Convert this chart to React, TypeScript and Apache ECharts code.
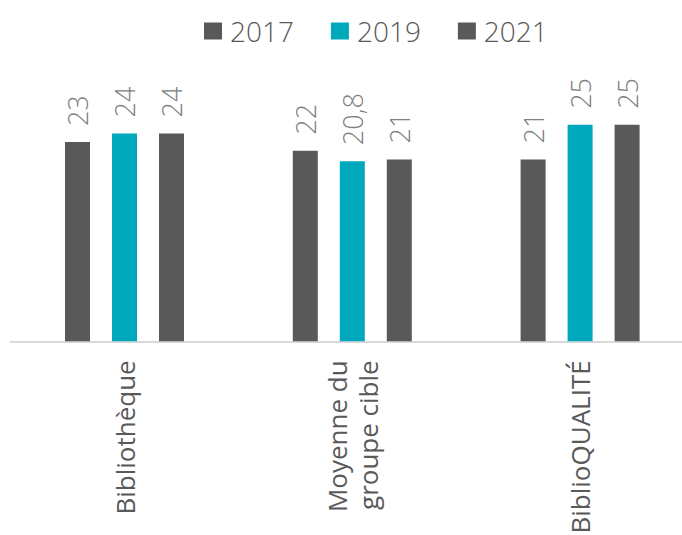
import React, { useEffect, useRef } from "react";
import * as echarts from "echarts";

const categories = ["Bibliothèque", "Moyenne du\ngroupe cible", "BiblioQUALITÉ"];
const seriesNames = ["2017", "2019", "2021"];
const values2017 = [23, 22, 21];
const values2019 = [24, 20.8, 25];
const values2021 = [24, 21, 25];
const colors = ["#595959", "#00A8BC", "#595959"];

export default function App() {
  const ref = useRef<HTMLDivElement>(null);
  useEffect(() => {
    if (!ref.current) return;
    const chart = echarts.init(ref.current, null, { renderer: "svg" });
    const font = "'Open Sans', sans-serif";
    const data = [values2017, values2019, values2021];
    chart.setOption({
      animation: false,
      backgroundColor: "#ffffff",
      textStyle: { fontFamily: font },
      legend: {
        data: seriesNames,
        left: 199,
        top: 11,
        icon: "rect",
        itemWidth: 18,
        itemHeight: 17,
        itemGap: 37,
        textStyle: {
          fontFamily: font,
          fontSize: 28,
          fontWeight: 300,
          color: "#595959",
          lineHeight: 30,
          padding: [0, 0, 0, 3],
        },
      },
      grid: {
        left: 10.6,
        width: 683.4,
        top: 81.5,
        height: 259.8,
        containLabel: false,
        outerBoundsMode: "none",
      },
      xAxis: {
        type: "category",
        data: categories,
        axisTick: { show: false },
        axisLine: { lineStyle: { color: "#D9D9D9", width: 2 } },
        axisLabel: {
          interval: 0,
          rotate: 90,
          margin: 19,
          fontFamily: font,
          fontSize: 26,
          lineHeight: 31,
          color: "#595959",
        },
      },
      yAxis: {
        type: "value",
        min: 0,
        max: 30,
        show: false,
        splitLine: { show: false },
      },
      series: seriesNames.map((name, i) => ({
        name,
        type: "bar",
        data: data[i],
        barWidth: 25,
        barGap: "88%",
        itemStyle: { color: colors[i] },
        label: {
          show: true,
          position: "top",
          rotate: 90,
          align: "left",
          verticalAlign: "middle",
          distance: 16,
          fontFamily: font,
          fontSize: 27,
          fontWeight: 300,
          color: "#808080",
          formatter: (p: any) => String(p.value).replace(".", ","),
        },
      })),
    });
    return () => chart.dispose();
  }, []);
  return (
    <div
      ref={ref}
      style={{ position: "fixed", left: 0, top: 0, width: 682, height: 535 }}
    />
  );
}
